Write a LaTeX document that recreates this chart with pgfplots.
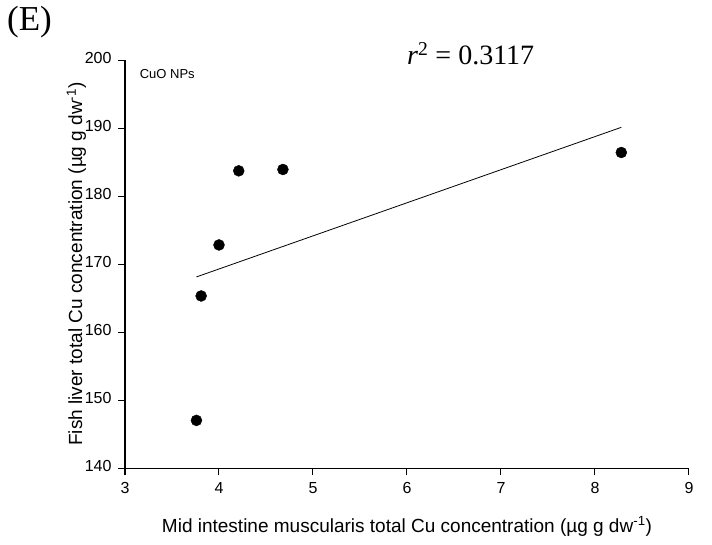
\documentclass[border=0pt]{standalone}
\usepackage{pgfplots}
\pgfplotsset{compat=1.18}
\usepackage{fontspec}
\setmainfont{Liberation Sans}
\newfontfamily\timesfont{Liberation Serif}
\begin{document}
\begin{tikzpicture}[x=1pt,y=1pt]
\useasboundingbox (0,0) rectangle (712,544);
\node[anchor=north west,inner sep=0pt,font=\timesfont\fontsize{35}{38}\selectfont] at (7,538) {(E)};
\begin{axis}[
  at={(125pt,76pt)}, anchor=south west,
  scale only axis, width=564pt, height=408pt,
  xmin=3, xmax=9, ymin=140, ymax=200,
  xtick={3,4,5,6,7,8,9}, ytick={140,150,...,200},
  axis x line*=bottom, axis y line*=left,
  axis line style={line width=1pt,-},
  tick style={line width=1pt,black},
  tick align=outside, major tick length=7pt,
  minor tick num=0,
  ticklabel style={font=\fontsize{16}{18}\selectfont},
  yticklabel style={yshift=2pt, xshift=-3pt},
  xticklabel style={yshift=-4pt},
  /pgf/number format/assume math mode=true,
  xlabel={Mid intestine muscularis total Cu concentration (µg g dw\textsuperscript{-1})},
  ylabel={Fish liver total Cu concentration (µg g dw\textsuperscript{-1})},
  label style={font=\fontsize{19}{21}\selectfont},
  xlabel style={at={(axis description cs:0.5,-0.157)}, anchor=base},
  ylabel style={at={(axis description cs:-0.076,0.5)}, anchor=base},
  clip=false,
]
\addplot[only marks, mark=*, mark size=5.5pt, mark options={fill=black,draw=black}] coordinates {
(3.76,147.0) (3.81,165.3) (4.00,172.8) (4.21,183.7) (4.68,183.9) (8.28,186.4)
};
\addplot[black, line width=0.8pt, no marks] coordinates {(3.76,168.1) (8.28,190.1)};
\node[anchor=west,font=\fontsize{13}{15}\selectfont] at (axis cs:3.12,197.9) {CuO NPs};
\node[anchor=base west,inner sep=0pt,font=\timesfont\fontsize{28}{30}\selectfont] at (axis cs:6.0,199.4) {\textit{r}\textsuperscript{2} = 0.3117};
\end{axis}
\end{tikzpicture}
\end{document}
